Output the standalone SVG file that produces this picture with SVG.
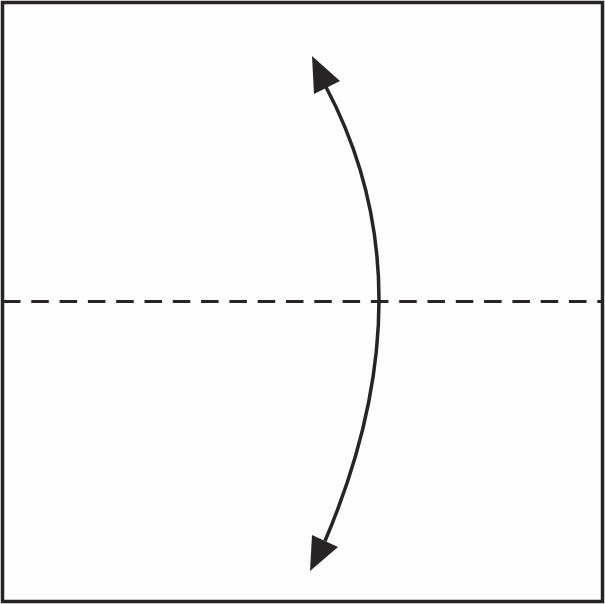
<svg xmlns="http://www.w3.org/2000/svg" width="605" height="604" viewBox="0 0 605 604">
<style>
.ink{stroke:#262425;fill:none}
.head{fill:#262425;stroke:none}
</style>
<rect x="0" y="0" width="605" height="604" fill="#fdfdfd"/>
<g id="paper">
<rect class="ink" x="2.5" y="2.5" width="600" height="599" stroke-width="3.5" fill="#ffffff"/>
</g>
<g id="fold-line">
<line class="ink" x1="3" y1="301.5" x2="602" y2="301.5" stroke-width="3" stroke-dasharray="17.5 10.8"/>
</g>
<g id="connectors">
<path class="ink" d="M326,87 Q432.5,288 325,541" stroke-width="3.5"/>
<polygon class="head" points="312,56 340,81 314,94"/>
<polygon class="head" points="310,571 312,535 338,547"/>
</g>
</svg>
